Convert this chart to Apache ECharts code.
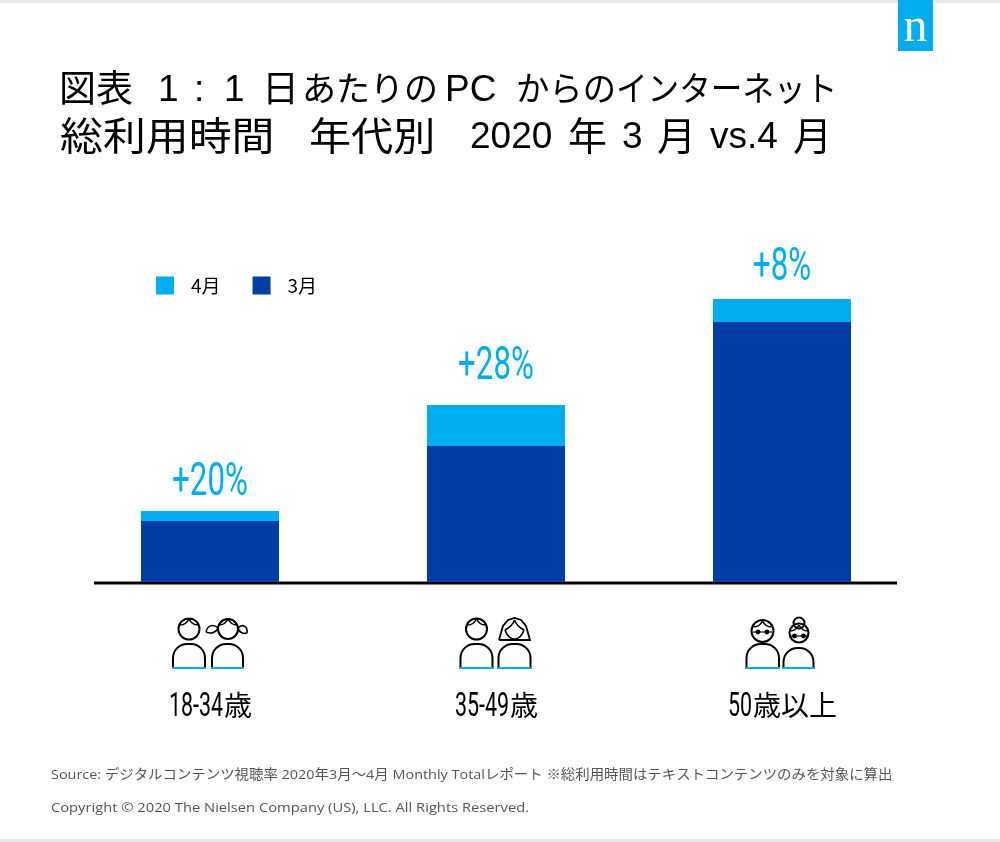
<!DOCTYPE html>
<html>
<head>
<meta charset="utf-8">
<script src="https://cdn.jsdelivr.net/npm/echarts@6/dist/echarts.min.js"></script>
<style>
html, body { margin: 0; padding: 0; background: #fff; }
#main { width: 1000px; height: 842px; }
</style>
</head>
<body>
<div id="main"></div>
<script>
const categories = ['18-34歳', '35-49歳', '50歳以上'];
const march = [61, 136, 260];
const aprilAdded = [10, 41, 23];
const growthLabels = ['+20%', '+28%', '+8%'];
const sourceText = 'Source: デジタルコンテンツ視聴率 2020年3月～4月 Monthly Totalレポート ※総利用時間はテキストコンテンツのみを対象に算出';
const copyrightText = 'Copyright © 2020 The Nielsen Company (US), LLC. All Rights Reserved.';

const CYAN = '#00aeef';
const NAVY = '#003da5';
const CJK = '"Noto Sans CJK JP", sans-serif';
const LATIN = '"Liberation Sans", sans-serif';
const FOOT = '"Open Sans", "Noto Sans CJK JP", sans-serif';
const NARROW = 'Roboto, sans-serif';

let myChart = echarts.init(document.getElementById('main'));

myChart.setOption({
    animation: false,
    legend: {
        data: ['4月', '3月'],
        left: 151,
        top: 271,
        icon: 'rect',
        itemWidth: 18,
        itemHeight: 18,
        itemGap: 32,
        textStyle: { fontFamily: CJK, fontSize: 19, color: '#000', padding: [0, 0, 0, 12] }
    },
    grid: { left: 67, top: 282, width: 858, height: 300 },
    xAxis: {
        type: 'category',
        data: categories,
        axisLine: { show: false },
        axisTick: { show: false },
        axisLabel: { show: false }
    },
    yAxis: { type: 'value', min: 0, max: 300, show: false },
    series: [
        { name: '3月', type: 'bar', stack: 'total', data: march, barWidth: 138, itemStyle: { color: NAVY } },
        { name: '4月', type: 'bar', stack: 'total', data: aprilAdded, itemStyle: { color: CYAN } }
    ]
});

// title is set run by run because the original spacing is uneven
function cjkRun(text, x, y, size, scaleX) {
    return {
        type: 'text', x: x, y: y - 1, scaleX: scaleX || 1,
        style: { text: text, fill: '#000', font: size + 'px ' + CJK, textVerticalAlign: 'middle' }
    };
}
function latinRun(text, x, y) {
    return {
        type: 'text', x: x, y: y + 2,
        style: { text: text, fill: '#000', font: '37px ' + LATIN, textVerticalAlign: 'middle' }
    };
}
const titleRuns = [
    cjkRun('図表', 59, 89, 37),
    latinRun('1', 158, 89),
    latinRun(':', 194, 89),
    latinRun('1', 224, 89),
    cjkRun('日', 262, 89, 37),
    cjkRun('あたりの', 302, 89, 34),
    latinRun('PC', 445, 89),
    cjkRun('からの', 516, 89, 34, 0.98),
    cjkRun('インターネット', 616, 89, 34, 0.93),
    cjkRun('総利用時間', 60, 136, 39, 1.1),
    cjkRun('年代別', 309, 136, 39, 1.08),
    latinRun('2020', 470, 136),
    cjkRun('年', 568, 136, 39),
    latinRun('3', 622, 136),
    cjkRun('月', 657, 136, 39),
    latinRun('vs.4', 710, 136),
    cjkRun('月', 793, 136, 39)
];

// small helpers for the decorative people under the axis
function stroke(w) {
    return { stroke: '#000', fill: 'none', lineWidth: w || 2 };
}
function circle(cx, cy, r) {
    return { type: 'circle', shape: { cx: cx, cy: cy, r: r }, style: stroke() };
}
function curve(x1, y1, cx1, cy1, cx2, cy2, x2, y2) {
    return { type: 'bezierCurve', shape: { x1: x1, y1: y1, cpx1: cx1, cpy1: cy1, cpx2: cx2, cpy2: cy2, x2: x2, y2: y2 }, style: stroke(1.6) };
}
function body(x0, x1, top) {
    return [
        { type: 'rect', shape: { x: x0, y: top, width: x1 - x0, height: 668 - top, r: [14, 14, 0, 0] }, style: stroke() },
        { type: 'line', shape: { x1: x0 - 1, y1: 668, x2: x1 + 1, y2: 668 }, style: { stroke: CYAN, lineWidth: 2 } }
    ];
}
function glasses(cx, cy) {
    return [
        { type: 'circle', shape: { cx: cx - 4.5, cy: cy, r: 2.4 }, style: { fill: '#000' } },
        { type: 'circle', shape: { cx: cx + 4.5, cy: cy, r: 2.4 }, style: { fill: '#000' } },
        { type: 'line', shape: { x1: cx - 9.5, y1: cy, x2: cx + 9.5, y2: cy }, style: stroke(1.2) }
    ];
}
function fringe(cx, cy) {
    return [curve(cx - 9, cy - 4, cx - 5, cy - 4, cx - 2, cy - 6, cx, cy - 10), curve(cx, cy - 10, cx + 2, cy - 6, cx + 5, cy - 4, cx + 9, cy - 4)];
}

function youngPair(c) {
    return [].concat(
        circle(c - 21, 629, 10.5), fringe(c - 21, 629), body(c - 37, c - 5, 644),
        circle(c + 18, 629, 10), fringe(c + 18, 629), body(c + 2, c + 33, 644),
        curve(c + 8, 628, c + 3, 623, c - 3, 626, c - 4, 632),
        curve(c - 4, 632, c + 1, 634, c + 6, 633, c + 8, 628),
        curve(c + 28, 628, c + 33, 623, c + 38, 627, c + 37, 633),
        curve(c + 37, 633, c + 34, 634, c + 29, 633, c + 28, 628)
    );
}
function middlePair(c) {
    return [].concat(
        circle(c - 19.5, 629, 10.5), fringe(c - 19.5, 629), body(c - 35.5, c - 3.5, 644),
        { type: 'polyline', shape: { points: [[c + 3, 640], [c + 7, 626], [c + 12, 620], [c + 18.5, 618], [c + 25, 620], [c + 30, 626], [c + 34, 640], [c + 3, 640]] }, style: stroke(1.8) },
        curve(c + 9, 630, c + 13, 628, c + 17, 624, c + 18.5, 620),
        curve(c + 18.5, 620, c + 20, 624, c + 24, 628, c + 28, 630),
        curve(c + 9, 630, c + 11, 636, c + 15, 639, c + 18.5, 639),
        curve(c + 18.5, 639, c + 22, 639, c + 26, 636, c + 28, 630),
        body(c + 2.5, c + 34.5, 644)
    );
}
function seniorPair(c) {
    return [].concat(
        circle(c - 19.5, 631, 11), fringe(c - 19.5, 631), glasses(c - 19.5, 632), body(c - 35.5, c - 3, 644),
        circle(c + 17, 633, 9.5), circle(c + 17, 623, 5.5), glasses(c + 17, 636), fringe(c + 17, 635), body(c + 1.5, c + 31.5, 648)
    );
}

// no condensed face is installed, so the narrow labels are regular text squeezed horizontally
function narrowText(text, x, y, size, color, scaleX, align) {
    return {
        type: 'text', x: x, y: y, scaleX: scaleX, scaleY: 1,
        style: { text: text, fill: color, font: size + 'px ' + NARROW, textAlign: align, textVerticalAlign: 'bottom' }
    };
}
function textWidth(text, font) {
    const ctx = document.createElement('canvas').getContext('2d');
    ctx.font = font;
    return ctx.measureText(text).width;
}
// category label: squeezed digits followed by the kanji at natural width
function categoryLabel(name, c) {
    const digits = name.match(/^[0-9-]+/)[0];
    const rest = name.slice(digits.length);
    const scale = 0.63, size = 34, cjkSize = 28;
    const dw = textWidth(digits, size + 'px ' + NARROW) * scale;
    const left = c - (dw + rest.length * cjkSize) / 2;
    return [
        narrowText(digits, left, 724, size, '#000', scale, 'left'),
        {
            type: 'text', x: left + dw + 1, y: 705,
            style: { text: rest, fill: '#000', font: cjkSize + 'px ' + CJK, textAlign: 'left', textVerticalAlign: 'middle' }
        }
    ];
}

const centers = categories.map(function (name) {
    return myChart.convertToPixel({ xAxisIndex: 0 }, name);
});
const tops = march.map(function (v, i) {
    return myChart.convertToPixel({ yAxisIndex: 0 }, v + aprilAdded[i]);
});
const labelGaps = [5, 15, 8];

const people = [youngPair(centers[0]), middlePair(centers[1]), seniorPair(centers[2])];
const growth = growthLabels.map(function (t, i) {
    return narrowText(t, centers[i], tops[i] - labelGaps[i], 46, CYAN, 0.68, 'center');
});
let catLabels = [];
categories.forEach(function (name, i) {
    catLabels = catLabels.concat(categoryLabel(name, centers[i]));
});

myChart.setOption({
    graphic: [].concat(
        titleRuns, people[0], people[1], people[2], growth, catLabels,
        [
            { type: 'rect', shape: { x: 0, y: 0, width: 1000, height: 3 }, style: { fill: '#e6e8ea' } },
            { type: 'rect', shape: { x: 0, y: 839, width: 1000, height: 3 }, style: { fill: '#e6e8ea' } },
            { type: 'rect', shape: { x: 898, y: 0, width: 35, height: 51 }, style: { fill: CYAN } },
            { type: 'text', x: 915.5, y: 28, style: { text: 'n', fill: '#fff', font: '48px "Liberation Serif", serif', textAlign: 'center', textVerticalAlign: 'middle' } },
            { type: 'line', shape: { x1: 94, y1: 583, x2: 897, y2: 583 }, style: { stroke: '#000', lineWidth: 3 } },
            { type: 'text', x: 51, y: 775, scaleX: 1.068, style: { text: sourceText, fill: '#555', font: '13.5px ' + FOOT, textVerticalAlign: 'middle' } },
            { type: 'text', x: 51, y: 808, scaleX: 1.09, style: { text: copyrightText, fill: '#555', font: '13.5px ' + FOOT, textVerticalAlign: 'middle' } }
        ]
    )
});
</script>
</body>
</html>
